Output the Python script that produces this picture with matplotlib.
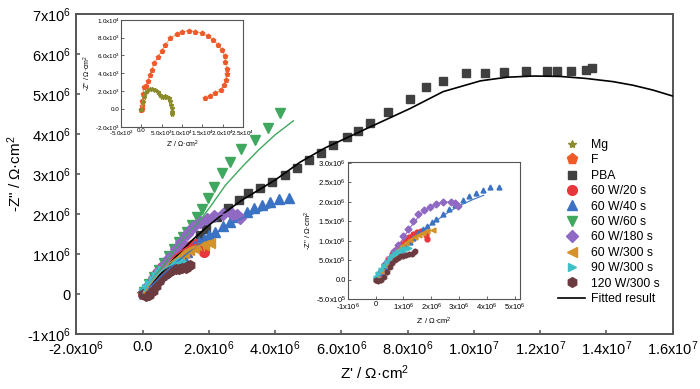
import numpy as np
import matplotlib
matplotlib.use("Agg")
import matplotlib.pyplot as plt
from matplotlib.lines import Line2D

plt.rcParams["font.family"] = ["Liberation Sans", "DejaVu Sans"]
plt.rcParams["mathtext.default"] = "regular"

# ---- data (values in ohm*cm^2) ----
mg_x = [0, 300, 600, 1000, 1500, 2000, 2600, 3300, 4000, 4600, 5100, 5500, 5900, 6300, 6700, 7000, 7300, 7500, 7600, 7600]
mg_y = [0, 800, 1400, 1800, 2050, 2200, 2250, 2150, 1900, 1600, 1400, 1350, 1450, 1400, 1200, 900, 500, 100, -300, -600]

f_x = [0, 82, 164, 247, 411, 575, 1233, 1644, 2055, 2548, 3206, 4110, 5014, 5918, 7069, 8713, 10111, 11755,
       13234, 14878, 16440, 17755, 18906, 19810, 20550, 20714, 20961, 21043, 20797, 20386, 19564, 18166, 16851, 15618]
f_y = [-110, 0, 377, 943, 1697, 2450, 2526, 3129, 3770, 4411, 5127, 5844, 6522, 7163, 7917, 8445, 8671, 8784,
       8671, 8483, 8219, 7766, 7201, 6598, 5919, 5278, 4524, 3883, 3280, 2714, 2149, 1772, 1470, 1206]

pba_x = [0.05, 0.3, 0.6, 1.0, 1.4, 1.74, 1.92, 2.24, 2.59, 2.90, 3.17, 3.53, 3.92, 4.30, 4.66, 5.01, 5.38, 5.76,
         6.18, 6.49, 6.87, 7.42, 8.08, 8.56, 9.06, 9.76, 10.34, 10.91, 11.57, 12.2, 12.52, 12.92, 13.38, 13.57]
pba_y = [0.05, 0.25, 0.55, 0.9, 1.2, 1.475, 1.64, 1.93, 2.14, 2.35, 2.53, 2.66, 2.81, 2.975, 3.14, 3.35, 3.53, 3.725,
         3.93, 4.08, 4.27, 4.54, 4.87, 5.17, 5.33, 5.52, 5.52, 5.56, 5.57, 5.575, 5.58, 5.58, 5.6, 5.64]
pba_fit_x = [0, 0.5, 1.0, 1.5, 2.0, 2.5, 3.0, 3.5, 4.0, 4.76, 5.5, 6.77, 8.08, 9.07, 10.2, 11.0, 11.8, 12.6, 13.38, 14.2, 14.8, 15.4, 16.0]
pba_fit_y = [0, 0.47, 0.93, 1.35, 1.72, 2.05, 2.35, 2.6, 2.85, 3.3, 3.65, 4.14, 4.64, 5.06, 5.33, 5.42, 5.45, 5.44, 5.39, 5.31, 5.22, 5.1, 4.95]

w60_20_x = [0.02, 0.15, 0.3, 0.45, 0.6, 0.75, 0.9, 1.05, 1.2, 1.35, 1.5, 1.62, 1.72, 1.8, 1.84]
w60_20_y = [0.0, 0.18, 0.37, 0.53, 0.67, 0.8, 0.91, 1.01, 1.1, 1.17, 1.22, 1.25, 1.24, 1.16, 1.05]

w60_40_x = [0.05, 0.2, 0.35, 0.5, 0.65, 0.8, 0.95, 1.1, 1.22, 1.34, 1.54, 1.69, 1.84, 2.02, 2.19, 2.44,
            2.65, 2.85, 3.15, 3.35, 3.60, 3.85, 4.13, 4.43]
w60_40_y = [0.03, 0.16, 0.29, 0.42, 0.54, 0.65, 0.76, 0.87, 0.96, 1.06, 1.2, 1.31, 1.39, 1.475, 1.56, 1.70,
            1.81, 1.93, 2.06, 2.14, 2.23, 2.31, 2.37, 2.39]
w60_40_fit_x = [0, 0.5, 1.0, 1.5, 2.0, 2.5, 3.0, 3.5, 3.89]
w60_40_fit_y = [0, 0.4, 0.78, 1.12, 1.42, 1.68, 1.9, 2.06, 2.17]

w60_60_x = [0.05, 0.2, 0.35, 0.5, 0.65, 0.8, 0.95, 1.1, 1.22, 1.34, 1.49, 1.64, 1.79, 1.97, 2.17, 2.41,
            2.65, 2.98, 3.38, 3.80, 4.16]
w60_60_y = [0.06, 0.25, 0.42, 0.6, 0.78, 0.95, 1.12, 1.3, 1.43, 1.56, 1.72, 1.92, 2.12, 2.39, 2.68, 3.02,
            3.31, 3.62, 3.85, 4.14, 4.52]
w60_60_fit_x = [0, 0.3, 0.6, 0.9, 1.2, 1.5, 1.74, 2.04, 2.5, 3.05, 3.5, 4.0, 4.55]
w60_60_fit_y = [0, 0.35, 0.7, 1.03, 1.35, 1.62, 1.85, 2.18, 2.72, 3.22, 3.6, 3.98, 4.33]

w60_180_x = [0.05, 0.2, 0.35, 0.5, 0.65, 0.8, 1.0, 1.16, 1.34, 1.52, 1.73, 1.94, 2.16, 2.42, 2.70, 2.85, 2.95]
w60_180_y = [0.05, 0.22, 0.40, 0.57, 0.73, 0.9, 1.12, 1.30, 1.51, 1.68, 1.80, 1.88, 1.95, 1.99, 2.01, 1.97, 1.90]
w60_180_fit_x = [0, 0.4, 0.8, 1.2, 1.6, 2.0, 2.4, 2.8, 2.9]
w60_180_fit_y = [0, 0.42, 0.85, 1.3, 1.68, 1.9, 2.0, 1.99, 1.95]

w60_300_x = [0.05, 0.2, 0.35, 0.5, 0.65, 0.8, 0.95, 1.1, 1.25, 1.4, 1.55, 1.7, 1.85, 2.05]
w60_300_y = [0.03, 0.22, 0.38, 0.52, 0.64, 0.76, 0.86, 0.95, 1.03, 1.1, 1.16, 1.21, 1.24, 1.27]

w90_300_x = [0.02, 0.1, 0.2, 0.3, 0.4, 0.5, 0.6, 0.7, 0.8, 0.9, 1.0, 1.1, 1.2]
w90_300_y = [0.05, 0.15, 0.26, 0.36, 0.45, 0.53, 0.6, 0.66, 0.71, 0.75, 0.78, 0.8, 0.82]

w120_300_x = [0.0, 0.1, 0.2, 0.3, 0.4, 0.5, 0.6, 0.7, 0.8, 0.9, 1.0, 1.1, 1.2, 1.3, 1.38, 1.42]
w120_300_y = [0.0, -0.04, -0.02, 0.08, 0.2, 0.32, 0.42, 0.5, 0.56, 0.6, 0.62, 0.64, 0.65, 0.66, 0.7, 0.74]

main_xticks = [-2e6, 0, 2e6, 4e6, 6e6, 8e6, 1e7, 1.2e7, 1.4e7, 1.6e7]
main_xlabels = ["-2.0x10$^{6}$", "0.0", "2.0x10$^{6}$", "4.0x10$^{6}$", "6.0x10$^{6}$", "8.0x10$^{6}$",
                "1.0x10$^{7}$", "1.2x10$^{7}$", "1.4x10$^{7}$", "1.6x10$^{7}$"]
main_yticks = [-1e6, 0, 1e6, 2e6, 3e6, 4e6, 5e6, 6e6, 7e6]
main_ylabels = ["-1x10$^{6}$", "0", "1x10$^{6}$", "2x10$^{6}$", "3x10$^{6}$", "4x10$^{6}$",
                "5x10$^{6}$", "6x10$^{6}$", "7x10$^{6}$"]
in1_xticks = [-5e3, 0, 5e3, 1e4, 1.5e4, 2e4, 2.5e4]
in1_xlabels = ["-5.0x10$^{3}$", "0.0", "5.0x10$^{3}$", "1.0x10$^{4}$", "1.5x10$^{4}$", "2.0x10$^{4}$", "2.5x10$^{4}$"]
in1_yticks = [-2e3, 0, 2e3, 4e3, 6e3, 8e3, 1e4]
in1_ylabels = ["-2.0x10$^{3}$", "0.0", "2.0x10$^{3}$", "4.0x10$^{3}$", "6.0x10$^{3}$", "8.0x10$^{3}$", "1.0x10$^{4}$"]
in2_xticks = [-1e6, 0, 1e6, 2e6, 3e6, 4e6, 5e6]
in2_xlabels = ["-1x10$^{6}$", "0", "1x10$^{6}$", "2x10$^{6}$", "3x10$^{6}$", "4x10$^{6}$", "5x10$^{6}$"]
in2_yticks = [-5e5, 0, 5e5, 1e6, 1.5e6, 2e6, 2.5e6, 3e6]
in2_ylabels = ["-5.0x10$^{5}$", "0.0", "5.0x10$^{5}$", "1.0x10$^{6}$", "1.5x10$^{6}$", "2.0x10$^{6}$",
               "2.5x10$^{6}$", "3.0x10$^{6}$"]

M = 1e6
spine_col = "#555555"

# series: label, x, y, fit x, fit y, color, marker, main size, inset size
series = [
    ("60 W/20 s", w60_20_x, w60_20_y, w60_20_x, w60_20_y, "#e8363d", "o", 7, 3.5),
    ("60 W/40 s", w60_40_x, w60_40_y, w60_40_fit_x, w60_40_fit_y, "#3a72c4", "^", 7, 3.5),
    ("60 W/60 s", w60_60_x, w60_60_y, w60_60_fit_x, w60_60_fit_y, "#3fa85e", "v", 7.5, None),
    ("60 W/180 s", w60_180_x, w60_180_y, w60_180_fit_x, w60_180_fit_y, "#8f69c2", "D", 6, 3.5),
    ("60 W/300 s", w60_300_x, w60_300_y, w60_300_x, w60_300_y, "#d4922a", "<", 7, 3.5),
    ("90 W/300 s", w90_300_x, w90_300_y, w90_300_x, w90_300_y, "#3fc0c6", ">", 6, 3.5),
    ("120 W/300 s", w120_300_x, w120_300_y, w120_300_x, w120_300_y, "#6b3b40", "h", 7, 3.5),
]


def style_axes(ax, fs, lw):
    for s in ax.spines.values():
        s.set_color(spine_col)
        s.set_linewidth(lw)
    ax.tick_params(direction="in", labelsize=fs, width=lw * 0.8, length=3, color=spine_col, pad=2)


fig = plt.figure(figsize=(7, 3.89), dpi=100)
ax = fig.add_axes([0.109, 0.141, 0.852, 0.823])

handles = []
h, = ax.plot(np.array(mg_x), np.array(mg_y), ls="none", marker="*", color="#8b8b2c", ms=6, label="Mg")
handles.append(h)
h, = ax.plot(np.array(f_x), np.array(f_y), ls="none", marker="p", color="#f05a28", ms=8, label="F")
handles.append(h)
ax.plot(np.array(pba_fit_x) * M, np.array(pba_fit_y) * M, color="black", lw=1.2, zorder=3)
h, = ax.plot(np.array(pba_x) * M, np.array(pba_y) * M, ls="none", marker="s", color="#404040", ms=6, label="PBA", zorder=2)
handles.append(h)
for lab, x, y, fx, fy, c, mk, ms, _ in series:
    h, = ax.plot(np.array(x) * M, np.array(y) * M, ls="none", marker=mk, color=c, ms=ms, label=lab, zorder=2)
    ax.plot(np.array(fx) * M, np.array(fy) * M, color=c, lw=1.0, zorder=3)
    handles.append(h)
handles.append(Line2D([0], [0], color="black", lw=1.2, label="Fitted result"))

ax.set_xlim(-2e6, 1.6e7)
ax.set_ylim(-1e6, 7e6)
ax.set_xticks(main_xticks)
ax.set_xticklabels(main_xlabels)
ax.set_yticks(main_yticks)
ax.set_yticklabels(main_ylabels)
style_axes(ax, 10.5, 1.4)
ax.tick_params(pad=4)
ax.set_xlabel("Z' / Ω·cm$^{2}$", fontsize=11)
ax.set_ylabel('-Z" / Ω·cm$^{2}$', fontsize=11, labelpad=2)

leg = ax.legend(handles=handles, loc="upper left", bbox_to_anchor=(0.80, 0.625), frameon=False,
                fontsize=8.8, handlelength=2.2, handletextpad=0.5, labelspacing=0.28, borderaxespad=0)

# inset 1 : Mg and F
ax1 = fig.add_axes([0.173, 0.674, 0.174, 0.275])
ax1.plot(f_x, f_y, color="#f29a4a", lw=0.7)
ax1.plot(f_x, f_y, ls="none", marker="p", color="#ee5a2a", ms=3.2)
ax1.plot(mg_x, mg_y, color="#c8c060", lw=0.7)
ax1.plot(mg_x, mg_y, ls="none", marker="*", color="#8b8b2c", ms=3.2)
ax1.set_xlim(-5e3, 2.5e4)
ax1.set_ylim(-2e3, 1e4)
ax1.set_xticks(in1_xticks)
ax1.set_xticklabels(in1_xlabels)
ax1.set_yticks(in1_yticks)
ax1.set_yticklabels(in1_ylabels)
style_axes(ax1, 4.5, 0.8)
ax1.tick_params(length=2, pad=1)
ax1.set_xlabel("Z' / Ω·cm$^{2}$", fontsize=5, labelpad=1)
ax1.set_ylabel('-Z" / Ω·cm$^{2}$', fontsize=5, labelpad=1)

# inset 2 : zoom of the sputtered samples
ax2 = fig.add_axes([0.497, 0.231, 0.246, 0.352])
for lab, x, y, fx, fy, c, mk, ms, ims in series:
    if ims is None:
        continue
    ax2.plot(np.array(x) * M, np.array(y) * M, ls="none", marker=mk, color=c, ms=ims)
    ax2.plot(np.array(fx) * M, np.array(fy) * M, color=c, lw=0.8)
ax2.set_xlim(-1e6, 5.2e6)
ax2.set_ylim(-4.5e5, 3.02e6)
ax2.set_xticks(in2_xticks)
ax2.set_xticklabels(in2_xlabels)
ax2.set_yticks(in2_yticks)
ax2.set_yticklabels(in2_ylabels)
style_axes(ax2, 5.5, 0.8)
ax2.tick_params(length=2, pad=1.5)
ax2.set_xlabel("Z' / Ω·cm$^{2}$", fontsize=5.5, labelpad=2)
ax2.set_ylabel('-Z" / Ω·cm$^{2}$', fontsize=5.5, labelpad=1)

fig.savefig("out.png", dpi=100)
